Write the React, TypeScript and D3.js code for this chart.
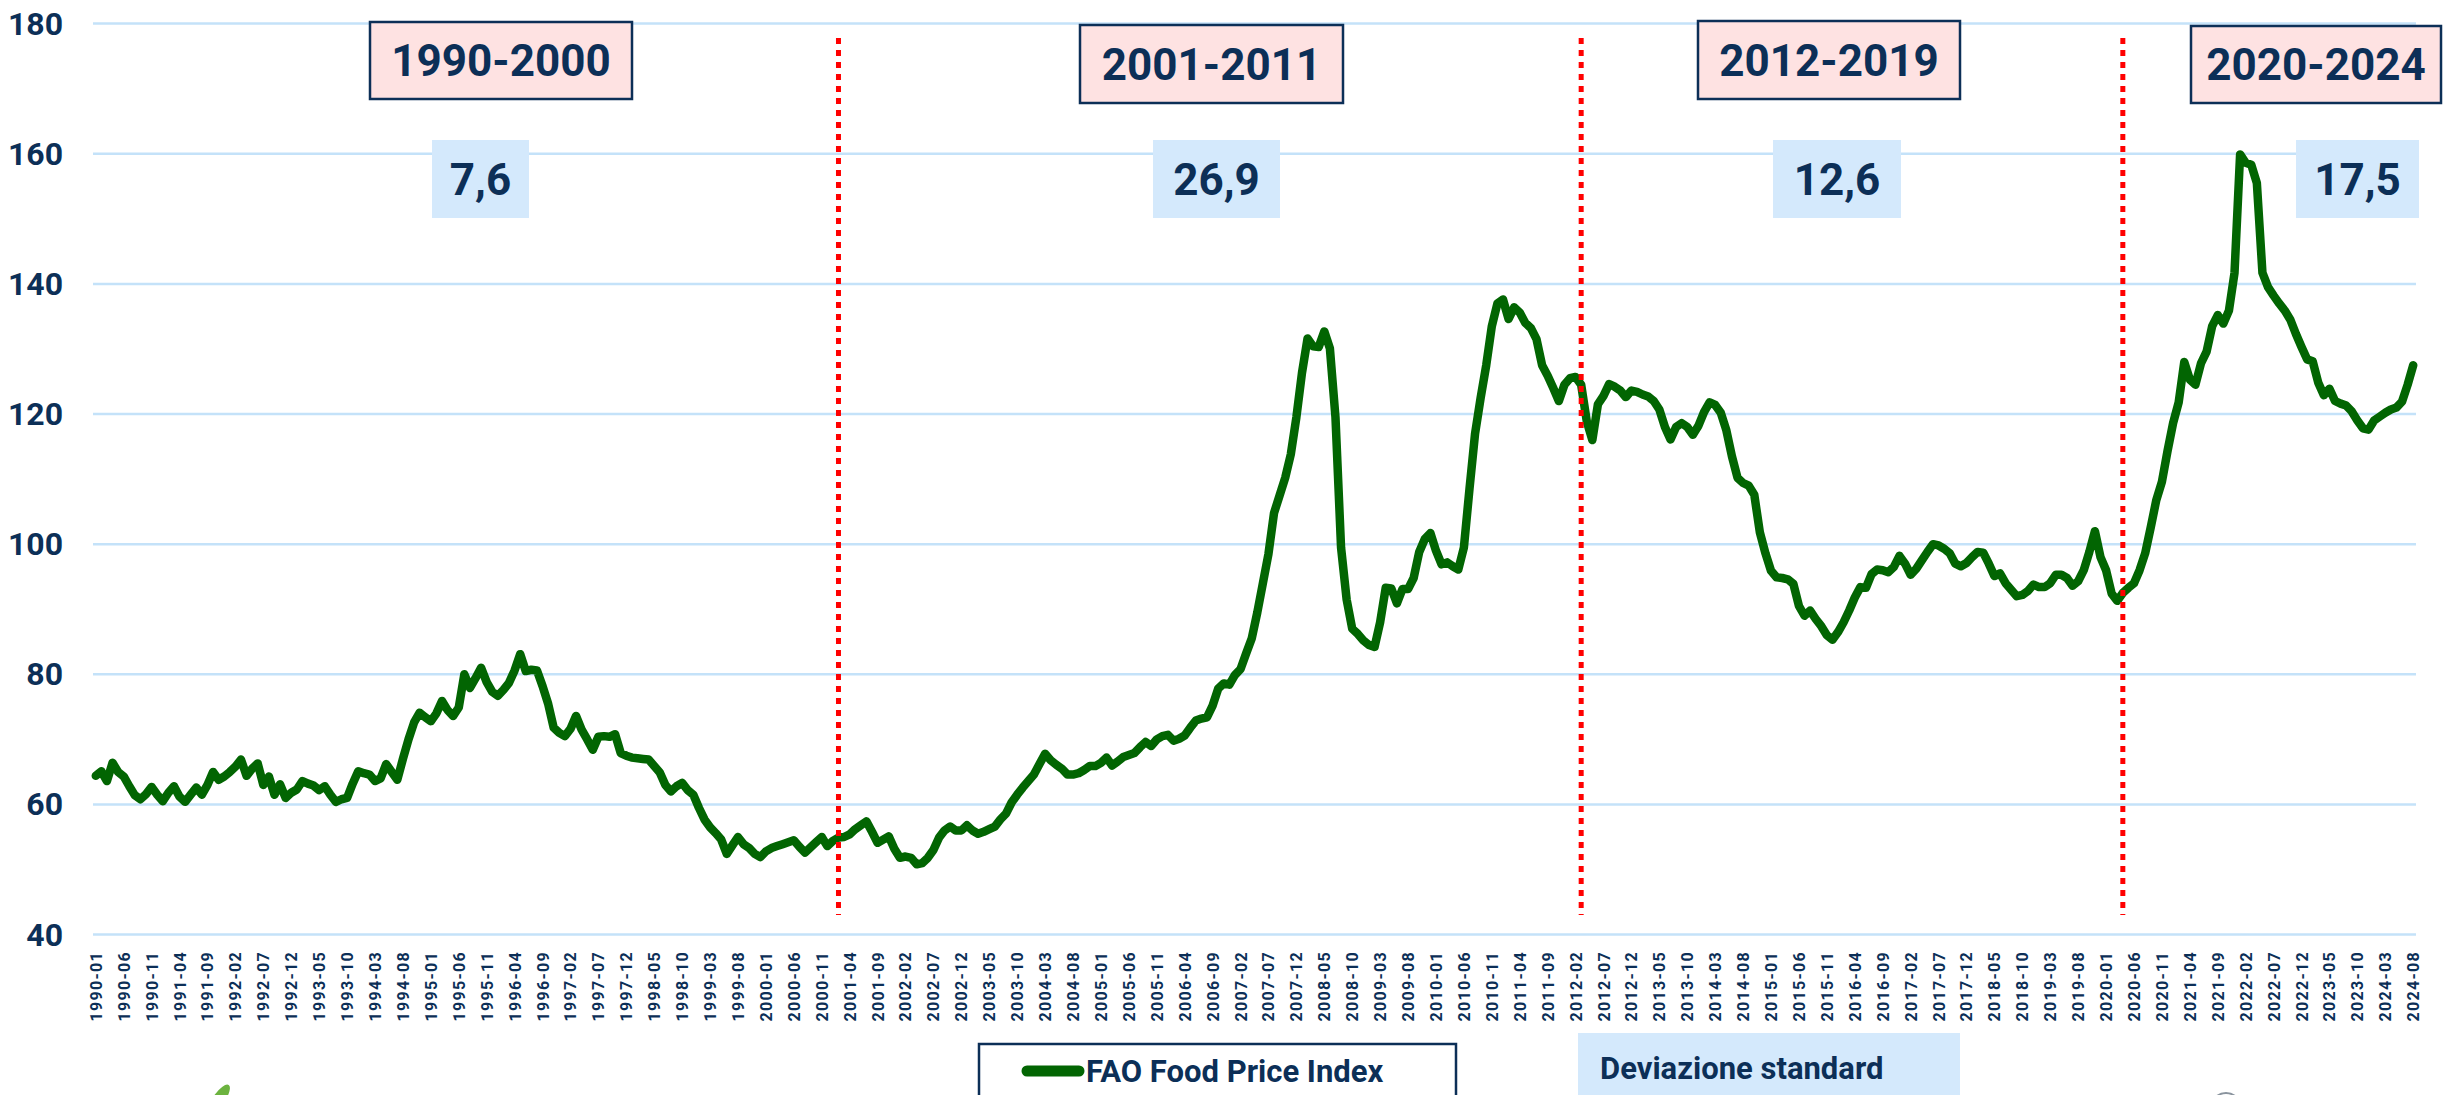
import { useRef, useEffect } from 'react';
import * as d3 from 'd3';

// FAO Food Price Index, monthly, 1990-01 .. 2024-08
const fpi1990s = [
    64.4, 65.1, 63.6, 66.4, 65.0, 64.3, 62.8, 61.4, 60.8, 61.6, 62.7, 61.5,
    60.5, 61.8, 62.8, 61.2, 60.4, 61.5, 62.6, 61.5, 63.0, 65.0, 63.8, 64.3,
    65.0, 65.8, 66.9, 64.4, 65.5, 66.3, 63.0, 64.3, 61.5, 63.1, 61.0, 61.8,
    62.3, 63.6, 63.2, 62.9, 62.2, 62.8, 61.5, 60.4, 60.8, 61.0, 63.2, 65.1,
    64.8, 64.6, 63.6, 64.0, 66.2, 65.0, 63.8, 67.0, 70.0, 72.6, 74.1, 73.4,
    72.8, 74.0, 75.9, 74.5, 73.6, 74.9, 80.0, 77.9, 79.4, 81.0, 78.8, 77.3,
    76.7, 77.6, 78.7, 80.6, 83.1, 80.5, 80.7, 80.6, 78.2, 75.5, 71.8, 71.0,
    70.5, 71.6, 73.6, 71.5, 70.0, 68.4, 70.4, 70.5, 70.4, 70.8, 67.9, 67.5,
    67.2, 67.1, 67.0, 66.9, 65.9, 64.9, 63.0, 62.0, 62.8, 63.3, 62.2, 61.5,
    59.5, 57.7, 56.5, 55.6, 54.6, 52.4, 53.7, 55.0, 53.9, 53.3, 52.4, 51.9,
];

const fpi2000s = [
    52.8, 53.3, 53.6, 53.9, 54.2, 54.5, 53.5, 52.6, 53.4, 54.2, 55.0, 53.6,
    54.4, 54.9, 55.0, 55.4, 56.2, 56.8, 57.4, 55.8, 54.1, 54.6, 55.1, 53.2,
    51.8, 52.0, 51.8, 50.8, 51.0, 51.8, 53.0, 54.9, 56.0, 56.6, 56.0, 56.0,
    56.8, 56.0, 55.5, 55.8, 56.2, 56.6, 57.7, 58.6, 60.3, 61.5, 62.6, 63.6,
    64.6, 66.2, 67.8, 66.8, 66.1, 65.5, 64.6, 64.6, 64.8, 65.3, 65.9, 65.9,
    66.4, 67.2, 66.0, 66.6, 67.3, 67.6, 67.9, 68.8, 69.6, 69.0, 70.0, 70.5,
    70.7, 69.8, 70.1, 70.6, 71.8, 72.9, 73.2, 73.4, 75.2, 77.8, 78.6, 78.4,
    79.9, 80.8, 83.2, 85.5, 89.5, 94.0, 98.5, 104.8, 107.5, 110.2, 113.8, 119.5,
    126.3, 131.6, 130.4, 130.3, 132.7, 130.1, 119.5, 99.5, 91.5, 87.0, 86.2, 85.2,
    84.5, 84.2, 88.0, 93.3, 93.2, 90.9, 93.1, 93.1, 94.8, 98.8, 100.8, 101.7,
];

const fpi2010s = [
    99.0, 96.9, 97.2, 96.6, 96.1, 99.5, 108.5, 117.0, 122.5, 127.5, 133.5, 137.0,
    137.6, 134.6, 136.4, 135.6, 134.0, 133.2, 131.5, 127.5, 125.9, 124.0, 122.0, 124.5,
    125.5, 125.7, 124.5, 118.9, 116.0, 121.5, 122.8, 124.6, 124.2, 123.6, 122.6, 123.6,
    123.4, 123.0, 122.7, 122.0, 120.7, 118.0, 116.1, 118.0, 118.6, 118.0, 116.8, 118.2,
    120.3, 121.8, 121.4, 120.2, 117.5, 113.5, 110.2, 109.4, 109.0, 107.6, 101.8, 98.6,
    95.9, 94.9, 94.8, 94.6, 93.9, 90.5, 89.0, 89.8, 88.5, 87.4, 86.0, 85.3,
    86.5, 88.0, 89.8, 91.8, 93.4, 93.3, 95.4, 96.1, 96.0, 95.7, 96.5, 98.2,
    97.0, 95.3, 96.2, 97.5, 98.8, 100.0, 99.8, 99.3, 98.6, 97.0, 96.6, 97.1,
    98.0, 98.8, 98.7, 97.0, 95.1, 95.5, 94.0, 93.0, 92.0, 92.2, 92.8, 93.8,
    93.4, 93.4, 94.0, 95.3, 95.3, 94.8, 93.6, 94.3, 96.0, 98.8, 102.0, 98.0,
];

const fpi2020s = [
    96.0, 92.4, 91.3, 92.5, 93.3, 94.0, 96.0, 98.6, 102.6, 106.8, 109.6, 114.3,
    118.6, 121.8, 128.0, 125.3, 124.5, 127.8, 129.6, 133.5, 135.2, 133.9, 135.9, 141.7,
    159.9, 158.6, 158.3, 155.5, 141.7, 139.5, 138.2, 137.0, 135.9, 134.5, 132.3, 130.3,
    128.4, 128.1, 124.8, 122.9, 123.9, 122.0, 121.6, 121.3, 120.4, 119.0, 117.8, 117.6,
    119.0, 119.6, 120.2, 120.7, 121.0, 121.9, 124.5, 127.5,
];

const months = d3.timeMonth
    .range(new Date(1990, 0, 1), new Date(2024, 8, 1))
    .map(d => d3.timeFormat('%Y-%m')(d));
const fpiValues = [...fpi1990s, ...fpi2000s, ...fpi2010s, ...fpi2020s];

const yTicks = [40, 60, 80, 100, 120, 140, 160, 180];
const tickMonths = months.filter((_, i) => i % 5 === 0);
const dividerMonths = ['2001-02', '2012-03', '2020-04'];
const periodLabels = ['1990-2000', '2001-2011', '2012-2019', '2020-2024'];
const stdDevLabels = ['7,6', '26,9', '12,6', '17,5'];
const legendLabel = 'FAO Food Price Index';
const stdDevTitle = 'Deviazione standard';

// annotation boxes (layout only)
const periodBoxes = [
    { x: 370, y: 22, w: 262, h: 77 },
    { x: 1080, y: 25, w: 263, h: 78 },
    { x: 1698, y: 21, w: 262, h: 78 },
    { x: 2191, y: 26, w: 250, h: 77 },
];
const stdDevBoxes = [
    { x: 432, y: 140, w: 97, h: 78 },
    { x: 1153, y: 140, w: 127, h: 78 },
    { x: 1773, y: 140, w: 128, h: 78 },
    { x: 2296, y: 140, w: 123, h: 78 },
];

const NAVY = '#0c2f57';
const FONT = 'Roboto, "Open Sans", sans-serif';

const FoodPriceChart = () => {
    const svgRef = useRef<SVGSVGElement | null>(null);

    const renderChart = () => {
        const svgElement = svgRef.current;
        if (!svgElement) return;

        const width = 2463;
        const height = 1095;
        const plot = { left: 93, right: 2416, top: 23.6, bottom: 934.6 };

        const svg = d3.select(svgElement)
            .attr('width', width)
            .attr('height', height);

        svg.selectAll('*').remove();

        svg.append('rect')
            .attr('width', width)
            .attr('height', height)
            .attr('fill', '#ffffff');

        const x = d3.scaleBand<string>()
            .domain(months)
            .range([plot.left, plot.right]);
        const cx = (m: string) => (x(m) ?? 0) + x.bandwidth() / 2;

        const y = d3.scaleLinear()
            .domain([40, 180])
            .range([plot.bottom, plot.top]);

        // horizontal grid
        svg.append('g')
            .selectAll('line')
            .data(yTicks)
            .join('line')
            .attr('x1', plot.left)
            .attr('x2', plot.right)
            .attr('y1', d => y(d))
            .attr('y2', d => y(d))
            .attr('stroke', '#c4e2f9')
            .attr('stroke-width', 2.5);

        // y labels
        svg.append('g')
            .selectAll('text')
            .data(yTicks)
            .join('text')
            .attr('x', 63)
            .attr('y', d => y(d) + 11)
            .attr('text-anchor', 'end')
            .style('font-family', '"Liberation Sans Narrow", Roboto, sans-serif')
            .style('font-weight', 700)
            .style('font-size', '32px')
            .style('fill', NAVY)
            .text(d => d);

        // x labels, one every 5 months
        svg.append('g')
            .selectAll('text')
            .data(tickMonths)
            .join('text')
            .attr('transform', d => `translate(${cx(d) + 6}, 951) rotate(-90)`)
            .attr('text-anchor', 'end')
            .style('font-family', FONT)
            .style('font-weight', 700)
            .style('font-size', '16px')
            .style('letter-spacing', '1.3px')
            .style('fill', NAVY)
            .text(d => d);

        // index line
        const line = d3.line<number>()
            .x((_, i) => cx(months[i]))
            .y(d => y(d));

        svg.append('path')
            .datum(fpiValues)
            .attr('fill', 'none')
            .attr('stroke', '#026502')
            .attr('stroke-width', 8.5)
            .attr('stroke-linejoin', 'round')
            .attr('stroke-linecap', 'round')
            .attr('d', line);

        // period dividers
        svg.append('g')
            .selectAll('line')
            .data(dividerMonths)
            .join('line')
            .attr('x1', d => cx(d))
            .attr('x2', d => cx(d))
            .attr('y1', 38)
            .attr('y2', 915)
            .attr('stroke', '#ff0000')
            .attr('stroke-width', 5)
            .attr('stroke-dasharray', '6 6');

        // period title boxes
        periodLabels.forEach((label, i) => {
            const b = periodBoxes[i];
            svg.append('rect')
                .attr('x', b.x)
                .attr('y', b.y)
                .attr('width', b.w)
                .attr('height', b.h)
                .attr('fill', '#fee2e2')
                .attr('stroke', NAVY)
                .attr('stroke-width', 2.5);
            svg.append('text')
                .attr('x', b.x + b.w / 2)
                .attr('y', b.y + b.h / 2 + 15.5)
                .attr('text-anchor', 'middle')
                .style('font-family', FONT)
                .style('font-weight', 700)
                .style('font-size', '44px')
                .style('fill', NAVY)
                .text(label);
        });

        // standard deviation boxes
        stdDevLabels.forEach((label, i) => {
            const b = stdDevBoxes[i];
            svg.append('rect')
                .attr('x', b.x)
                .attr('y', b.y)
                .attr('width', b.w)
                .attr('height', b.h)
                .attr('fill', '#d4e9fc');
            svg.append('text')
                .attr('x', b.x + b.w / 2)
                .attr('y', b.y + b.h / 2 + 15.5)
                .attr('text-anchor', 'middle')
                .style('font-family', FONT)
                .style('font-weight', 700)
                .style('font-size', '44px')
                .style('fill', NAVY)
                .text(label);
        });

        // legend
        svg.append('rect')
            .attr('x', 979)
            .attr('y', 1044)
            .attr('width', 477)
            .attr('height', 80)
            .attr('fill', '#ffffff')
            .attr('stroke', NAVY)
            .attr('stroke-width', 2.5);
        svg.append('line')
            .attr('x1', 1027)
            .attr('x2', 1079)
            .attr('y1', 1071)
            .attr('y2', 1071)
            .attr('stroke', '#026502')
            .attr('stroke-width', 11)
            .attr('stroke-linecap', 'round');
        svg.append('text')
            .attr('x', 1086)
            .attr('y', 1082)
            .style('font-family', FONT)
            .style('font-weight', 700)
            .style('font-size', '31px')
            .style('fill', NAVY)
            .text(legendLabel);

        // "Deviazione standard" tag
        svg.append('rect')
            .attr('x', 1578)
            .attr('y', 1033)
            .attr('width', 382)
            .attr('height', 80)
            .attr('fill', '#d4e9fc');
        svg.append('text')
            .attr('x', 1600)
            .attr('y', 1079)
            .style('font-family', FONT)
            .style('font-weight', 700)
            .style('font-size', '31px')
            .style('fill', NAVY)
            .text(stdDevTitle);

        // bits of logos cut by the bottom edge
        svg.append('ellipse')
            .attr('cx', 0)
            .attr('cy', 0)
            .attr('rx', 6)
            .attr('ry', 17)
            .attr('transform', 'translate(219, 1099) rotate(35)')
            .attr('fill', '#6cb33f');
        svg.append('circle')
            .attr('cx', 2226)
            .attr('cy', 1108)
            .attr('r', 15)
            .attr('fill', 'none')
            .attr('stroke', '#8a949e')
            .attr('stroke-width', 2);
    };

    useEffect(() => {
        document.body.style.margin = '0';
        renderChart();
    }, []);

    return (
        <svg ref={svgRef} style={{ position: 'absolute', left: 0, top: 0, display: 'block' }}></svg>
    );
};

export default function App() {
    return <FoodPriceChart />;
}
